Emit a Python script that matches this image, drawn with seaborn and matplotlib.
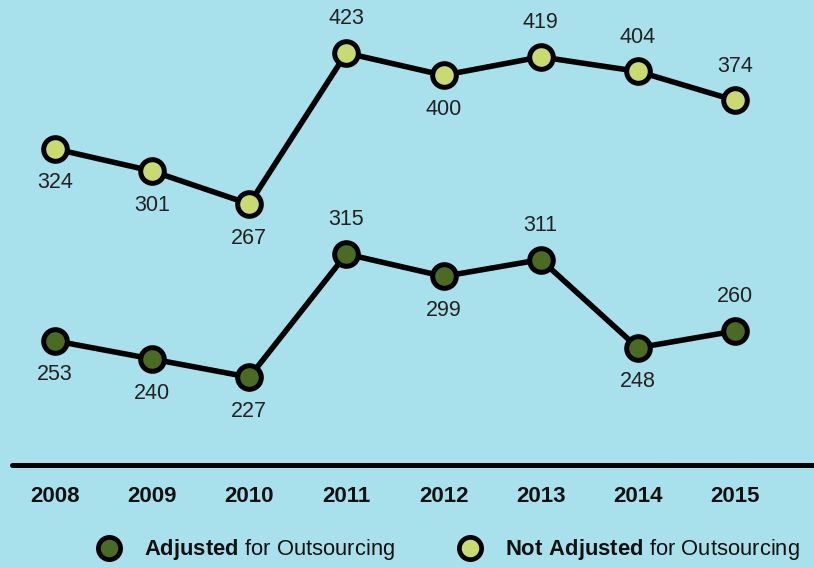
import matplotlib
matplotlib.use("Agg")
import matplotlib.pyplot as plt
import seaborn as sns
import pandas as pd
from matplotlib.lines import Line2D

years = [2008, 2009, 2010, 2011, 2012, 2013, 2014, 2015]
adjusted = [253, 240, 227, 315, 299, 311, 248, 260]
not_adjusted = [324, 301, 267, 423, 400, 419, 404, 374]
adj_label_pos = ["below", "below", "below", "above", "below", "above", "below", "above"]
not_label_pos = ["below", "below", "below", "above", "below", "above", "above", "above"]
tick_labels = [str(y) for y in years]
legend_labels = [r"$\bf{Adjusted}$ for Outsourcing", r"$\bf{Not\ Adjusted}$ for Outsourcing"]

BG = "#a8e1eb"
DARK = "#4b6a22"
LIGHT = "#c9da70"

sns.set_theme(style="white")
plt.rcParams["font.family"] = ["Liberation Sans", "DejaVu Sans"]
plt.rcParams["mathtext.fontset"] = "custom"
plt.rcParams["mathtext.rm"] = "Liberation Sans"
plt.rcParams["mathtext.bf"] = "Liberation Sans:bold"

fig = plt.figure(figsize=(8.14, 5.68), dpi=100)
fig.patch.set_facecolor(BG)
ax1 = fig.add_axes([12 / 814, (568 - 465) / 568, 1 - 12 / 814, 465 / 568])
ax2 = ax1.twinx()
for a in (ax1, ax2):
    a.set_facecolor("none")
    for s in a.spines.values():
        s.set_visible(False)
ax1.set_facecolor(BG)

x_left = 2008 - 43 / 97.14
x_right = 2008 + (814 - 55) / 97.14
ax1.set_xlim(x_left, x_right)
ax2.set_xlim(x_left, x_right)
# map values to pixel rows of the reference
ax1.set_ylim(423 - (465 - 53) / 0.968, 423 + 53 / 0.968)
ax2.set_ylim(315 - (465 - 254) / 1.40, 315 + 254 / 1.40)

df_n = pd.DataFrame({"year": years, "value": not_adjusted})
df_a = pd.DataFrame({"year": years, "value": adjusted})

style = dict(color="black", linewidth=4.0, marker="o", markersize=17,
             markeredgecolor="black", markeredgewidth=3.6, legend=False)
sns.lineplot(data=df_n, x="year", y="value", ax=ax1, markerfacecolor=LIGHT, **style)
sns.lineplot(data=df_a, x="year", y="value", ax=ax2, markerfacecolor=DARK, **style)

def annotate(ax, vals, pos):
    for x, v, p in zip(years, vals, pos):
        off = 24.5 if p == "above" else -24.5
        ax.annotate(str(v), (x, v), xytext=(0, off), textcoords="offset points",
                    ha="center", va="center", fontsize=15.5, color="#222222")

annotate(ax1, not_adjusted, not_label_pos)
annotate(ax2, adjusted, adj_label_pos)

ax1.axhline(ax1.get_ylim()[0], color="black", linewidth=3.6, solid_capstyle="round",
            clip_on=False)

ax1.set_xticks(years)
ax1.set_xticklabels(tick_labels, fontsize=16, fontweight="bold", color="#111111")
ax1.tick_params(axis="x", length=0, pad=15)
ax1.set_yticks([])
ax2.set_yticks([])
ax1.set_xlabel("")
ax1.set_ylabel("")
ax2.set_ylabel("")

handles = [
    Line2D([], [], linestyle="none", marker="o", markersize=16, markerfacecolor=DARK,
           markeredgecolor="black", markeredgewidth=3.4),
    Line2D([], [], linestyle="none", marker="o", markersize=16, markerfacecolor=LIGHT,
           markeredgecolor="black", markeredgewidth=3.4),
]
fig.legend(handles, legend_labels, loc="center", bbox_to_anchor=(0.545, 0.032), ncol=2,
           frameon=False, fontsize=15.8, handletextpad=0.6, columnspacing=2.4,
           labelcolor="#111111", borderpad=0.2)

fig.savefig("out.png", dpi=100, facecolor=BG)
